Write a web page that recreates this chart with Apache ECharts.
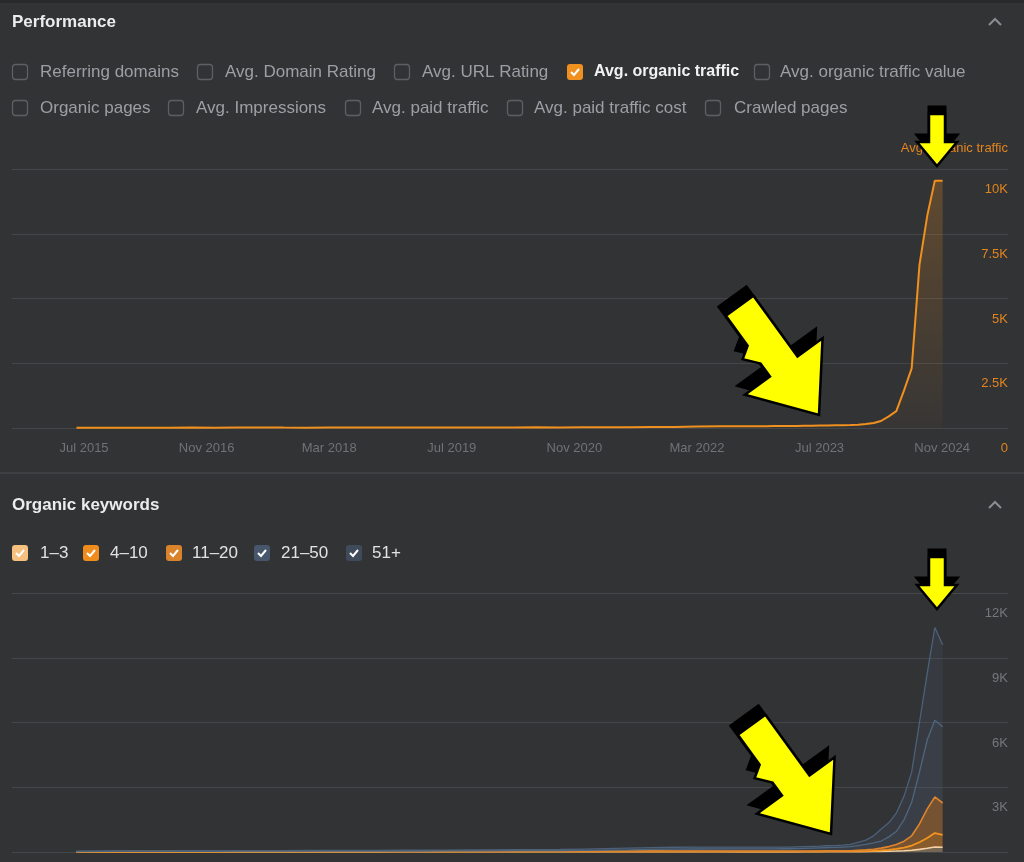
<!DOCTYPE html>
<html>
<head>
<meta charset="utf-8">
<script src="https://cdn.jsdelivr.net/npm/echarts@6/dist/echarts.min.js"></script>
<style>
  html, body { margin: 0; padding: 0; background: #323335; }
  #chart { width: 1024px; height: 862px; }
</style>
</head>
<body>
<div id="chart"></div>
<script>
// ---------------- DATA ----------------
const dates = [
  '2015-06','2015-09','2015-12','2016-03','2016-06','2016-09','2016-12','2017-03','2017-06','2017-09',
  '2017-12','2018-03','2018-06','2018-09','2018-12','2019-03','2019-06','2019-09','2019-12','2020-03',
  '2020-06','2020-09','2020-12','2021-03','2021-06','2021-09','2021-12','2022-03','2022-06','2022-09',
  '2022-12',
  '2023-01','2023-02','2023-03','2023-04','2023-05','2023-06','2023-07','2023-08','2023-09','2023-10',
  '2023-11','2023-12','2024-01','2024-02','2024-03','2024-04','2024-05','2024-06','2024-07','2024-08',
  '2024-09','2024-10','2024-11'
];
const organicTraffic = [
  8,10,12,10,14,15,12,16,18,15,14,17,20,18,16,19,22,20,18,24,25,22,28,30,32,35,38,60,65,70,72,
  75,78,80,82,85,88,95,100,105,110,120,130,150,190,270,450,650,1460,2300,6300,8200,9550,9550
];
const kw1to3 = [
  5,6,6,7,7,6,7,8,8,7,8,8,9,8,9,9,10,9,10,10,11,10,11,12,12,11,10,9,9,8,8,
  8,8,8,8,9,9,10,10,10,10,12,14,18,22,28,35,45,60,80,120,170,230,220
];
const kw4to10 = [
  4,4,5,5,5,6,5,6,6,6,7,7,7,8,8,8,8,9,9,10,10,11,12,12,13,13,12,12,12,12,12,
  12,12,12,12,13,13,14,15,16,18,18,21,27,33,42,65,95,140,220,330,480,650,570
];
const kw11to20 = [
  5,5,6,6,6,7,7,7,8,8,8,9,9,9,10,10,11,11,12,12,13,14,15,16,17,18,18,19,19,20,20,
  20,20,20,20,20,23,24,25,26,27,30,45,55,75,110,150,210,300,450,850,1350,1670,1480
];
const kw21to50 = [
  10,10,12,12,13,13,14,15,15,16,16,17,18,18,20,20,22,24,25,28,30,35,40,50,60,75,90,100,105,105,108,
  108,110,110,120,128,135,142,150,158,175,190,220,250,290,320,450,600,1000,1550,2400,3200,3550,3530
];
const kw51plus = [
  20,22,22,24,25,25,26,27,28,28,30,30,32,34,35,36,38,40,42,45,48,52,58,65,75,85,90,85,80,78,80,
  80,80,80,80,80,80,80,90,90,90,100,150,200,330,550,650,850,1100,1400,2300,3100,4300,3800
];
const xTickLabels = ['Jul 2015','Nov 2016','Mar 2018','Jul 2019','Nov 2020','Mar 2022','Jul 2023','Nov 2024'];
const perfLegendRow1 = ['Referring domains','Avg. Domain Rating','Avg. URL Rating','Avg. organic traffic','Avg. organic traffic value'];
const perfLegendRow2 = ['Organic pages','Avg. Impressions','Avg. paid traffic','Avg. paid traffic cost','Crawled pages'];
const perfChecked = 'Avg. organic traffic';
const kwLegend = ['1–3','4–10','11–20','21–50','51+'];

// ---------------- HELPERS ----------------
const FONT = "'Liberation Sans', Arial, sans-serif";
const MONTHS = {Jan:1,Feb:2,Mar:3,Apr:4,May:5,Jun:6,Jul:7,Aug:8,Sep:9,Oct:10,Nov:11,Dec:12};
const AVG_MONTH = 30.436875 * 86400000;
const ORIGIN = new Date(2015, 6, 1).getTime();            // Jul 2015
const X_MIN_M = -9.4, X_MAX_M = 120.6;                    // visible range, months from Jul 2015
const X_MIN = ORIGIN + X_MIN_M * AVG_MONTH;
const X_MAX = ORIGIN + X_MAX_M * AVG_MONTH;
function idxFromYM(y, m) { return (y - 2015) * 12 + (m - 7); }
function idxFromLabel(l) { const [mn, y] = l.split(' '); return idxFromYM(Number(y), MONTHS[mn]); }
function tsFromDate(s) { const [y, m] = s.split('-').map(Number); return new Date(y, m - 1, 1).getTime(); }
const xTs = dates.map(tsFromDate);
const pairs = arr => arr.map((v, i) => [xTs[i], v]);
const tickIdx = xTickLabels.map(idxFromLabel);

function kfmt(v) {
  if (v === 0) return '0';
  return (v / 1000) + 'K';
}

// ---------------- LAYOUT / STYLE ----------------
const perfRow1X = [[12,40],[197,225],[394,422],[567,594],[754,780]];
const perfRow2X = [[12,40],[168,196],[345,372],[507,534],[705,734]];
const kwLegX = [[12,40],[83,110],[166,192],[254,281],[346,372]];
const kwBoxColors = ['#f6c07f','#f08c1c','#d9832a','#47566a','#3f4b5a'];
const ORANGE = '#f0901e';

const graphic = [];
graphic.push({type:'rect', shape:{x:0,y:0,width:1024,height:3}, style:{fill:'#28292b'}, silent:true});
graphic.push({type:'rect', shape:{x:0,y:472,width:1024,height:2}, style:{fill:'#3d3f42'}, silent:true});
graphic.push({type:'text', x:12, y:22, style:{text:'Performance', fill:'#ececec', font:'bold 17px ' + FONT, verticalAlign:'middle'}});
graphic.push({type:'text', x:12, y:505, style:{text:'Organic keywords', fill:'#ececec', font:'bold 17px ' + FONT, verticalAlign:'middle'}});
graphic.push({type:'text', x:1008, y:148, style:{text:'Avg. organic traffic', fill:'#e3841f', font:'13px ' + FONT, align:'right', verticalAlign:'middle'}});
[22, 505].forEach(cy => {
  graphic.push({type:'polyline', shape:{points:[[989,cy+3],[995,cy-3],[1001,cy+3]]}, style:{stroke:'#8a8d91', lineWidth:2, fill:null}});
});

function checkbox(x, cy, checked, color) {
  const els = [];
  if (checked) {
    els.push({type:'rect', shape:{x:x, y:cy-8, width:16, height:16, r:3}, style:{fill:color}});
    els.push({type:'polyline', shape:{points:[[x+4,cy],[x+7,cy+3],[x+12,cy-3]]}, style:{stroke:'#ffffff', lineWidth:2, fill:null}});
  } else {
    els.push({type:'rect', shape:{x:x+0.5, y:cy-7.5, width:15, height:15, r:3}, style:{fill:null, stroke:'#5c5f63', lineWidth:1.3}});
  }
  return els;
}

function perfRow(labels, xs, cy) {
  labels.forEach((lab, i) => {
    const on = lab === perfChecked;
    checkbox(xs[i][0], cy, on, ORANGE).forEach(e => graphic.push(e));
    graphic.push({type:'text', x:xs[i][1], y:cy, style:{text:lab, fill: on ? '#f2f2f2' : '#9c9fa4',
      font:(on ? 'bold 16px ' : '17px ') + FONT, verticalAlign:'middle'}});
  });
}
perfRow(perfLegendRow1, perfRow1X, 72);
perfRow(perfLegendRow2, perfRow2X, 108);

kwLegend.forEach((lab, i) => {
  checkbox(kwLegX[i][0], 553, true, kwBoxColors[i]).forEach(e => graphic.push(e));
  graphic.push({type:'text', x:kwLegX[i][1], y:553, style:{text:lab, fill:'#e2e2e2', font:'17px ' + FONT, verticalAlign:'middle'}});
});

// annotation arrows (decorations)
function arrowPts(tx, ty, deg, local) {
  const th = deg * Math.PI / 180, c = Math.cos(th), s = Math.sin(th);
  return local.map(([u, v]) => [tx + u * s + v * c, ty - u * c + v * s]);
}
const bigArrow = [[0,0],[48,-60],[17,-60],[17,-135],[-17,-135],[-17,-98],[-29,-90],[-17,-76],[-17,-60],[-48,-60]];
const smallArrow = [[0,0],[20,-24],[8,-24],[8,-52],[-8,-52],[-8,-24],[-20,-24]];
function addArrow(tx, ty, deg, local, sdx, sdy) {
  const pts = arrowPts(tx, ty, deg, local);
  const sh = pts.map(([x, y]) => [x + sdx, y + sdy]);
  graphic.push({type:'polygon', z:200, shape:{points:sh}, style:{fill:'#000', stroke:'#000', lineWidth:3, lineJoin:'miter'}});
  graphic.push({type:'polygon', z:201, shape:{points:pts}, style:{fill:'#ffff00', stroke:'#000', lineWidth:2.5, lineJoin:'miter'}});
}
addArrow(819, 415, 54, bigArrow, -7, -9);
addArrow(831, 834, 54, bigArrow, -7, -9);
addArrow(937, 166, 90, smallArrow, 0, -7);
addArrow(937, 609, 90, smallArrow, 0, -7);

// ---------------- CHART ----------------
// time axes carry the series (so stacking is done on the y values)
function mkTimeX(gi) {
  return {
    type:'time', gridIndex:gi, min:X_MIN, max:X_MAX, position:'bottom',
    splitLine:{show:false}, axisLine:{show:false}, axisTick:{show:false}, axisLabel:{show:false}
  };
}
// label axes (same span, in months from Jul 2015) carry the tick labels
function mkLabelX(gi) {
  return {
    type:'value', gridIndex:gi, min:X_MIN_M, max:X_MAX_M, position:'bottom',
    splitLine:{show:false}, axisLine:{show:false}, axisTick:{show:false},
    axisLabel:{
      customValues: tickIdx,
      formatter: v => { const k = tickIdx.indexOf(Math.round(v)); return k >= 0 ? xTickLabels[k] : ''; },
      color:'#6f7276', fontSize:13, fontFamily:FONT, margin:14
    }
  };
}
function mkY(gi, max, interval, color) {
  return {
    type:'value', gridIndex:gi, position:'right', min:0, max:max, interval:interval,
    axisLine:{show:false}, axisTick:{show:false},
    splitLine:{show:true, lineStyle:{color:'#444649', width:1}},
    axisLabel:{inside:true, margin:0, color:color, fontSize:13, fontFamily:FONT,
      verticalAlign:'top', padding:[14,0,0,0], formatter:kfmt, showMinLabel:true, showMaxLabel:true}
  };
}

function kwSeries(name, data, line, width, area) {
  return {
    name:name, type:'line', xAxisIndex:1, yAxisIndex:1, stack:'kw',
    data:pairs(data),
    showSymbol:false, symbol:'none', lineStyle:{color:line, width:width}, itemStyle:{color:line},
    areaStyle:{color:area, opacity:1}
  };
}

const option = {
  backgroundColor:'#323335',
  animation:false,
  textStyle:{fontFamily:FONT},
  grid:[
    {left:12, right:16, top:169, height:259, containLabel:false, outerBoundsMode:'none'},
    {left:12, right:16, top:593, height:259, containLabel:false, outerBoundsMode:'none'}
  ],
  xAxis:[mkTimeX(0), mkTimeX(1), mkLabelX(0), mkLabelX(1)],
  yAxis:[
    mkY(0, 10000, 2500, '#e3841f'),
    mkY(1, 12000, 3000, '#74777c')
  ],
  series:[
    {
      name:'Avg. organic traffic', type:'line', xAxisIndex:0, yAxisIndex:0, data:pairs(organicTraffic),
      showSymbol:false, symbol:'none', lineStyle:{color:ORANGE, width:2}, itemStyle:{color:ORANGE},
      areaStyle:{color:new echarts.graphic.LinearGradient(0,0,0,1,[
        {offset:0, color:'rgba(240,144,30,0.35)'},{offset:1, color:'rgba(240,144,30,0.04)'}])}
    },
    kwSeries('1–3', kw1to3, '#f5d3a6', 1.6, 'rgba(245,200,140,0.35)'),
    kwSeries('4–10', kw4to10, '#f4951f', 1.8, 'rgba(240,140,30,0.45)'),
    kwSeries('11–20', kw11to20, '#dd842c', 1.6, 'rgba(200,120,45,0.45)'),
    kwSeries('21–50', kw21to50, '#4f6680', 1.3, 'rgba(85,108,135,0.22)'),
    kwSeries('51+', kw51plus, '#4b617a', 1.3, 'rgba(85,108,135,0.15)')
  ],
  graphic: graphic
};

const chart = echarts.init(document.getElementById('chart'), null, {renderer:'canvas'});
chart.setOption(option);
</script>
</body>
</html>
